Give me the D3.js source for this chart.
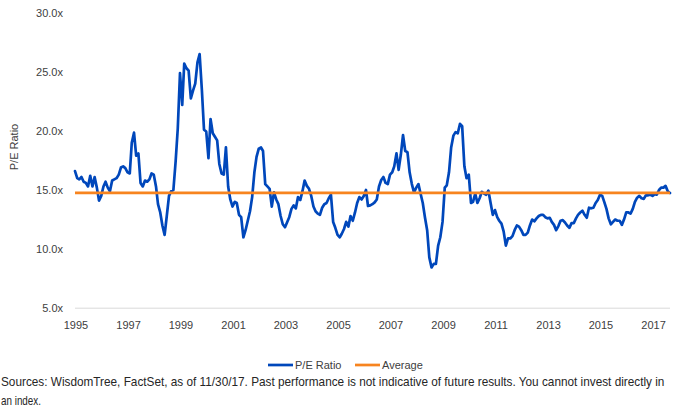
<!DOCTYPE html>
<html>
<head>
<meta charset="utf-8">
<script src="https://cdn.jsdelivr.net/npm/d3@7"></script>
<style>
  html, body { margin: 0; padding: 0; background: #fff; }
  svg { display: block; }
</style>
</head>
<body>
<svg id="chart" width="674" height="417"></svg>
<script>
// ---- data (monthly, starting Jan 1995) ----
const startMonth = "1995-01";
const peRatio = [
  16.6, 16.0, 15.9, 16.1, 15.7, 15.6, 15.3, 16.2, 15.3, 16.1, 15.2, 14.1,   // 1995
  14.5, 15.3, 15.7, 15.2, 14.9, 15.8, 15.9, 16.0, 16.3, 16.9, 17.0, 16.85,  // 1996
  16.5, 16.4, 19.0, 19.85, 17.9, 18.1, 15.6, 15.3, 15.8, 15.7, 15.9, 16.4,  // 1997
  16.3, 15.3, 13.8, 13.1, 12.0, 11.2, 12.8, 14.5, 14.9, 15.0, 17.4, 20.2,   // 1998
  24.9, 22.2, 25.7, 25.3, 25.1, 22.75, 23.4, 24.0, 25.8, 26.5, 23.5, 20.1,  // 1999
  19.95, 17.7, 21.0, 19.8, 19.5, 19.2, 17.2, 16.4, 16.3, 18.6, 15.3, 14.2,  // 2000
  13.6, 14.0, 13.9, 12.9, 12.7, 11.0, 11.6, 12.4, 13.2, 14.4, 16.5, 17.8,   // 2001
  18.5, 18.6, 18.3, 15.5, 15.3, 15.1, 13.6, 14.8, 14.2, 13.8, 12.8, 12.1,   // 2002
  11.85, 12.3, 12.7, 13.4, 13.7, 13.45, 14.4, 14.15, 14.9, 15.8, 15.35, 15.1, // 2003
  14.5, 13.6, 13.2, 13.0, 12.9, 13.5, 13.8, 13.9, 14.3, 14.6, 12.3, 11.8,   // 2004
  11.2, 11.0, 11.3, 11.7, 12.3, 11.9, 12.8, 12.4, 13.1, 13.9, 14.4, 14.2,   // 2005
  14.5, 15.0, 13.65, 13.7, 13.8, 13.95, 14.2, 15.3, 15.85, 16.1, 15.6, 15.5, // 2006
  16.3, 16.5, 17.0, 18.1, 16.7, 18.0, 19.65, 18.3, 18.2, 16.5, 15.5, 14.8,  // 2007
  15.2, 15.5, 14.7, 13.9, 12.7, 11.6, 9.3, 8.45, 8.75, 8.75, 10.3, 11.0,    // 2008
  12.3, 15.2, 15.4, 16.5, 18.6, 19.6, 19.9, 19.8, 20.6, 20.4, 17.0, 16.0,   // 2009
  16.3, 13.9, 14.0, 14.7, 13.9, 14.3, 14.85, 14.7, 14.6, 14.95, 13.9, 12.9, // 2010
  13.3, 12.7, 12.4, 12.15, 11.5, 10.3, 10.9, 10.9, 11.1, 11.6, 12.0, 11.9,  // 2011
  11.6, 11.2, 11.2, 11.4, 12.0, 12.5, 12.35, 12.6, 12.8, 12.9, 12.9, 12.7,  // 2012
  12.6, 12.65, 12.3, 12.05, 11.6, 11.95, 12.4, 12.45, 12.25, 12.0, 11.8, 12.2, // 2013
  12.2, 12.6, 12.9, 13.1, 13.25, 12.9, 12.65, 13.5, 13.45, 13.5, 13.9, 14.15, // 2014
  14.6, 14.5, 14.0, 13.4, 12.6, 12.1, 12.3, 12.5, 12.4, 12.4, 12.05, 12.5,  // 2015
  13.1, 13.1, 13.0, 13.4, 14.0, 14.35, 14.5, 14.3, 14.25, 14.55, 14.55, 14.6, // 2016
  14.5, 14.65, 14.6, 15.0, 15.2, 15.2, 15.35, 14.9, 14.75                   // 2017
];
const averagePE = 14.75;
const yTicks = [5, 10, 15, 20, 25, 30];
const xTickYears = [1995, 1997, 1999, 2001, 2003, 2005, 2007, 2009, 2011, 2013, 2015, 2017];
const seriesNames = ["P/E Ratio", "Average"];
const yAxisTitle = "P/E Ratio";
const sourceLines = [
  "Sources: WisdomTree, FactSet, as of 11/30/17. Past performance is not indicative of future results. You cannot invest directly in",
  "an index."
];

// ---- build ----
const parseMonth = d3.timeParse("%Y-%m");
const start = parseMonth(startMonth);
const data = peRatio.map((v, i) => ({ date: d3.timeMonth.offset(start, i), value: v }));

const blue = "#0047BB";
const orange = "#F7841F";
const textColor = "#404040";
const font = "'Liberation Sans', Arial, sans-serif";

const svg = d3.select("#chart");

const x = d3.scaleTime()
  .domain([data[0].date, data[data.length - 1].date])
  .range([75, 670]);
const y = d3.scaleLinear().domain([5, 30]).range([308.2, 12.7]);

// baseline axis
svg.append("line")
  .attr("x1", 75).attr("x2", 670)
  .attr("y1", y(5)).attr("y2", y(5))
  .attr("stroke", "#d9d9d9").attr("stroke-width", 1);

// y tick labels
svg.append("g").selectAll("text").data(yTicks).join("text")
  .attr("x", 63).attr("y", d => y(d))
  .attr("dy", "0.35em")
  .attr("text-anchor", "end")
  .attr("font-family", font).attr("font-size", 11)
  .attr("fill", textColor)
  .text(d => d3.format(".1f")(d) + "x");

// x tick labels
svg.append("g").selectAll("text").data(xTickYears).join("text")
  .attr("x", d => x(new Date(d, 0, 1)) + 1)
  .attr("y", 329)
  .attr("text-anchor", "middle")
  .attr("font-family", font).attr("font-size", 11)
  .attr("fill", textColor)
  .text(d => d);

// y axis title
svg.append("text")
  .attr("transform", "translate(18,147) rotate(-90)")
  .attr("text-anchor", "middle")
  .attr("font-family", font).attr("font-size", 11)
  .attr("fill", textColor)
  .text(yAxisTitle);

// P/E line
const line = d3.line().x(d => x(d.date)).y(d => y(d.value));
svg.append("path")
  .datum(data)
  .attr("d", line)
  .attr("fill", "none")
  .attr("stroke", blue)
  .attr("stroke-width", 2.7)
  .attr("stroke-linejoin", "round")
  .attr("stroke-linecap", "round");

// Average line
svg.append("line")
  .attr("x1", x(data[0].date)).attr("x2", x(data[data.length - 1].date))
  .attr("y1", y(averagePE)).attr("y2", y(averagePE))
  .attr("stroke", orange).attr("stroke-width", 2.7);

// legend
const legendItems = [
  { name: seriesNames[0], color: blue, x1: 268, x2: 293, tx: 295 },
  { name: seriesNames[1], color: orange, x1: 355, x2: 380, tx: 382 }
];
const lg = svg.append("g");
legendItems.forEach(it => {
  lg.append("line")
    .attr("x1", it.x1).attr("x2", it.x2).attr("y1", 365).attr("y2", 365)
    .attr("stroke", it.color).attr("stroke-width", 2.7);
  lg.append("text")
    .attr("x", it.tx).attr("y", 365).attr("dy", "0.35em")
    .attr("font-family", font).attr("font-size", 11)
    .attr("fill", textColor)
    .text(it.name);
});

// source note (horizontally condensed to mimic a narrow font)
const srcFont = "'Liberation Sans', Arial, sans-serif";
function condensedText(str, tx, ty, targetWidth) {
  const t = svg.append("text")
    .attr("font-family", srcFont)
    .attr("font-size", 12.5)
    .attr("fill", "#262626")
    .text(str);
  const w = t.node().getComputedTextLength();
  const sx = targetWidth / w;
  t.attr("transform", `translate(${tx},${ty}) scale(${sx},1)`);
}
condensedText(sourceLines[0], 1, 385.5, 664);
condensedText(sourceLines[1], 1, 405, 40);
</script>
</body>
</html>
